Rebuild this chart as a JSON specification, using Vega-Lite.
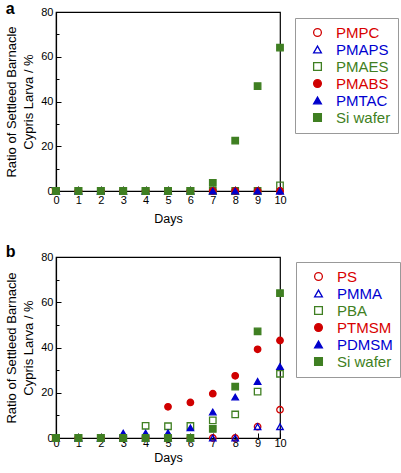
{
  "$schema": "https://vega.github.io/schema/vega-lite/v6.json",
  "padding": {"left": 5, "top": 0, "right": 2, "bottom": 2},
  "spacing": 17,
  "config": {
    "font": "Liberation Sans",
    "view": {"stroke": "black", "strokeWidth": 1.2},
    "axis": {"domainColor": "black", "domainWidth": 1.2, "tickColor": "black", "tickWidth": 1, "labelColor": "black", "labelFontSize": 11, "labelFont": "Liberation Sans", "titleColor": "black", "titleFont": "Liberation Sans", "titleFontWeight": "normal", "grid": false},
    "legend": {"labelFont": "Liberation Sans", "labelFontSize": 15, "padding": 7, "symbolOffset": 8, "labelOffset": 11, "rowPadding": 1, "strokeColor": "#999999", "fillColor": "white", "symbolSize": 60, "symbolStrokeWidth": 1.3, "labelLimit": 200},
    "title": {"font": "Liberation Sans"}
  },
  "datasets": {
    "a": [
      {"series": "PMPC", "day": 0, "value": 0}, {"series": "PMPC", "day": 1, "value": 0}, {"series": "PMPC", "day": 2, "value": 0}, {"series": "PMPC", "day": 3, "value": 0}, {"series": "PMPC", "day": 4, "value": 0}, {"series": "PMPC", "day": 5, "value": 0}, {"series": "PMPC", "day": 6, "value": 0}, {"series": "PMPC", "day": 7, "value": 0}, {"series": "PMPC", "day": 8, "value": 0}, {"series": "PMPC", "day": 9, "value": 0}, {"series": "PMPC", "day": 10, "value": 0},
      {"series": "PMAPS", "day": 0, "value": 0}, {"series": "PMAPS", "day": 1, "value": 0}, {"series": "PMAPS", "day": 2, "value": 0}, {"series": "PMAPS", "day": 3, "value": 0}, {"series": "PMAPS", "day": 4, "value": 0}, {"series": "PMAPS", "day": 5, "value": 0}, {"series": "PMAPS", "day": 6, "value": 0}, {"series": "PMAPS", "day": 7, "value": 0}, {"series": "PMAPS", "day": 8, "value": 0}, {"series": "PMAPS", "day": 9, "value": 0}, {"series": "PMAPS", "day": 10, "value": 0},
      {"series": "PMAES", "day": 0, "value": 0}, {"series": "PMAES", "day": 1, "value": 0}, {"series": "PMAES", "day": 2, "value": 0}, {"series": "PMAES", "day": 3, "value": 0}, {"series": "PMAES", "day": 4, "value": 0}, {"series": "PMAES", "day": 5, "value": 0}, {"series": "PMAES", "day": 6, "value": 0}, {"series": "PMAES", "day": 7, "value": 0}, {"series": "PMAES", "day": 8, "value": 0}, {"series": "PMAES", "day": 9, "value": 0}, {"series": "PMAES", "day": 10, "value": 2.5},
      {"series": "PMABS", "day": 0, "value": 0}, {"series": "PMABS", "day": 1, "value": 0}, {"series": "PMABS", "day": 2, "value": 0}, {"series": "PMABS", "day": 3, "value": 0}, {"series": "PMABS", "day": 4, "value": 0}, {"series": "PMABS", "day": 5, "value": 0}, {"series": "PMABS", "day": 6, "value": 0}, {"series": "PMABS", "day": 7, "value": 0}, {"series": "PMABS", "day": 8, "value": 0}, {"series": "PMABS", "day": 9, "value": 0}, {"series": "PMABS", "day": 10, "value": 0},
      {"series": "PMTAC", "day": 0, "value": 0}, {"series": "PMTAC", "day": 1, "value": 0}, {"series": "PMTAC", "day": 2, "value": 0}, {"series": "PMTAC", "day": 3, "value": 0}, {"series": "PMTAC", "day": 4, "value": 0}, {"series": "PMTAC", "day": 5, "value": 0}, {"series": "PMTAC", "day": 6, "value": 0}, {"series": "PMTAC", "day": 7, "value": 0}, {"series": "PMTAC", "day": 8, "value": 0}, {"series": "PMTAC", "day": 9, "value": 0}, {"series": "PMTAC", "day": 10, "value": 0},
      {"series": "Si wafer", "day": 0, "value": 0}, {"series": "Si wafer", "day": 1, "value": 0}, {"series": "Si wafer", "day": 2, "value": 0}, {"series": "Si wafer", "day": 3, "value": 0}, {"series": "Si wafer", "day": 4, "value": 0}, {"series": "Si wafer", "day": 5, "value": 0}, {"series": "Si wafer", "day": 6, "value": 0}, {"series": "Si wafer", "day": 7, "value": 3.6}, {"series": "Si wafer", "day": 8, "value": 22.5}, {"series": "Si wafer", "day": 9, "value": 46.9}, {"series": "Si wafer", "day": 10, "value": 64.1}
    ],
    "b": [
      {"series": "PS", "day": 0, "value": 0}, {"series": "PS", "day": 1, "value": 0}, {"series": "PS", "day": 2, "value": 0}, {"series": "PS", "day": 3, "value": 0}, {"series": "PS", "day": 4, "value": 0}, {"series": "PS", "day": 5, "value": 0}, {"series": "PS", "day": 6, "value": 0}, {"series": "PS", "day": 7, "value": 0}, {"series": "PS", "day": 8, "value": 0}, {"series": "PS", "day": 9, "value": 5}, {"series": "PS", "day": 10, "value": 12.5},
      {"series": "PMMA", "day": 0, "value": 0}, {"series": "PMMA", "day": 1, "value": 0}, {"series": "PMMA", "day": 2, "value": 0}, {"series": "PMMA", "day": 3, "value": 0}, {"series": "PMMA", "day": 4, "value": 0}, {"series": "PMMA", "day": 5, "value": 0}, {"series": "PMMA", "day": 6, "value": 0}, {"series": "PMMA", "day": 7, "value": 0}, {"series": "PMMA", "day": 8, "value": 0}, {"series": "PMMA", "day": 9, "value": 5}, {"series": "PMMA", "day": 10, "value": 5},
      {"series": "PBA", "day": 0, "value": 0}, {"series": "PBA", "day": 1, "value": 0}, {"series": "PBA", "day": 2, "value": 0}, {"series": "PBA", "day": 3, "value": 0}, {"series": "PBA", "day": 4, "value": 5.4}, {"series": "PBA", "day": 5, "value": 5.2}, {"series": "PBA", "day": 6, "value": 5.3}, {"series": "PBA", "day": 7, "value": 7.8}, {"series": "PBA", "day": 8, "value": 10.4}, {"series": "PBA", "day": 9, "value": 20.5}, {"series": "PBA", "day": 10, "value": 28.4},
      {"series": "PTMSM", "day": 0, "value": 0}, {"series": "PTMSM", "day": 1, "value": 0}, {"series": "PTMSM", "day": 2, "value": 0}, {"series": "PTMSM", "day": 3, "value": 0}, {"series": "PTMSM", "day": 4, "value": 0}, {"series": "PTMSM", "day": 5, "value": 13.8}, {"series": "PTMSM", "day": 6, "value": 15.7}, {"series": "PTMSM", "day": 7, "value": 19.6}, {"series": "PTMSM", "day": 8, "value": 27.5}, {"series": "PTMSM", "day": 9, "value": 39.2}, {"series": "PTMSM", "day": 10, "value": 43.1},
      {"series": "PDMSM", "day": 0, "value": 0}, {"series": "PDMSM", "day": 1, "value": 0}, {"series": "PDMSM", "day": 2, "value": 0}, {"series": "PDMSM", "day": 3, "value": 2.2}, {"series": "PDMSM", "day": 4, "value": 2.2}, {"series": "PDMSM", "day": 5, "value": 2.3}, {"series": "PDMSM", "day": 6, "value": 4.5}, {"series": "PDMSM", "day": 7, "value": 11.5}, {"series": "PDMSM", "day": 8, "value": 18.1}, {"series": "PDMSM", "day": 9, "value": 25}, {"series": "PDMSM", "day": 10, "value": 31.6},
      {"series": "Si wafer", "day": 0, "value": 0}, {"series": "Si wafer", "day": 1, "value": 0}, {"series": "Si wafer", "day": 2, "value": 0}, {"series": "Si wafer", "day": 3, "value": 0}, {"series": "Si wafer", "day": 4, "value": 0}, {"series": "Si wafer", "day": 5, "value": 0}, {"series": "Si wafer", "day": 6, "value": 0}, {"series": "Si wafer", "day": 7, "value": 4}, {"series": "Si wafer", "day": 8, "value": 22.7}, {"series": "Si wafer", "day": 9, "value": 47.1}, {"series": "Si wafer", "day": 10, "value": 64}
    ]
  },
  "vconcat": [
    {
      "data": {"name": "a"},
      "width": 224, "height": 179,
      "title": {"text": "a", "anchor": "start", "frame": "bounds", "fontSize": 16, "fontWeight": "bold", "color": "black", "offset": -11},
      "mark": {"type": "point", "size": 42, "strokeWidth": 1.3, "opacity": 1},
      "encoding": {
        "x": {"field": "day", "type": "quantitative", "scale": {"domain": [0, 10], "nice": false, "zero": false},
          "axis": {"title": "Days", "titleFontSize": 12.5, "titlePadding": 7, "format": "d", "values": [0,0.5,1,1.5,2,2.5,3,3.5,4,4.5,5,5.5,6,6.5,7,7.5,8,8.5,9,9.5,10], "labelExpr": "datum.value % 1 === 0 ? datum.label : ''", "tickSize": {"condition": {"test": "datum.value % 1 === 0", "value": -5}, "value": -3}, "labelPadding": 8, "labelFlush": false}},
        "y": {"field": "value", "type": "quantitative", "scale": {"domain": [0, 80], "nice": false},
          "axis": {"title": ["Ratio of Settleed Barnacle", "Cypris Larva / %"], "titleFontSize": 13, "titleLineHeight": 17, "titlePadding": 5, "values": [0,10,20,30,40,50,60,70,80], "labelExpr": "datum.value % 20 === 0 ? datum.label : ''", "tickSize": {"condition": {"test": "datum.value % 20 === 0", "value": -5}, "value": -3}, "labelPadding": 8}},
        "shape": {"field": "series", "type": "nominal", "scale": {"domain": ["PMPC","PMAPS","PMAES","PMABS","PMTAC","Si wafer"], "range": ["circle","triangle-up","square","circle","triangle-up","square"]},
          "legend": {"title": null, "orient": "none", "legendX": 239, "legendY": 6, "labelColor": {"expr": "(datum.value == 'PMPC' || datum.value == 'PMABS') ? '#d80000' : (datum.value == 'PMAPS' || datum.value == 'PMTAC') ? '#0000d0' : '#3f7f22'"}}},
        "fill": {"field": "series", "type": "nominal", "scale": {"domain": ["PMPC","PMAPS","PMAES","PMABS","PMTAC","Si wafer"], "range": ["transparent","transparent","transparent","#d00000","#0000cc","#3f7f22"]},
          "legend": {"title": null, "orient": "none", "legendX": 239, "legendY": 6, "labelColor": {"expr": "(datum.value == 'PMPC' || datum.value == 'PMABS') ? '#d80000' : (datum.value == 'PMAPS' || datum.value == 'PMTAC') ? '#0000d0' : '#3f7f22'"}}},
        "stroke": {"field": "series", "type": "nominal", "scale": {"domain": ["PMPC","PMAPS","PMAES","PMABS","PMTAC","Si wafer"], "range": ["#d00000","#0000cc","#3f7f22","#d00000","#0000cc","#3f7f22"]},
          "legend": {"title": null, "orient": "none", "legendX": 239, "legendY": 6, "labelColor": {"expr": "(datum.value == 'PMPC' || datum.value == 'PMABS') ? '#d80000' : (datum.value == 'PMAPS' || datum.value == 'PMTAC') ? '#0000d0' : '#3f7f22'"}}}
      }
    },
    {
      "data": {"name": "b"},
      "width": 224, "height": 181,
      "title": {"text": "b", "anchor": "start", "frame": "bounds", "fontSize": 16, "fontWeight": "bold", "color": "black", "offset": -9},
      "mark": {"type": "point", "size": 42, "strokeWidth": 1.3, "opacity": 1},
      "encoding": {
        "x": {"field": "day", "type": "quantitative", "scale": {"domain": [0, 10], "nice": false, "zero": false},
          "axis": {"title": "Days", "titleFontSize": 12.5, "titlePadding": 3, "format": "d", "values": [0,0.5,1,1.5,2,2.5,3,3.5,4,4.5,5,5.5,6,6.5,7,7.5,8,8.5,9,9.5,10], "labelExpr": "datum.value % 1 === 0 ? datum.label : ''", "tickSize": {"condition": {"test": "datum.value % 1 === 0", "value": -5}, "value": -3}, "labelPadding": 4, "labelFlush": false}},
        "y": {"field": "value", "type": "quantitative", "scale": {"domain": [0, 80], "nice": false},
          "axis": {"title": ["Ratio of Settleed Barnacle", "Cypris Larva / %"], "titleFontSize": 13, "titleLineHeight": 17, "titlePadding": 5, "values": [0,10,20,30,40,50,60,70,80], "labelExpr": "datum.value % 20 === 0 ? datum.label : ''", "tickSize": {"condition": {"test": "datum.value % 20 === 0", "value": -5}, "value": -3}, "labelPadding": 8}},
        "shape": {"field": "series", "type": "nominal", "scale": {"domain": ["PS","PMMA","PBA","PTMSM","PDMSM","Si wafer"], "range": ["circle","triangle-up","square","circle","triangle-up","square"]},
          "legend": {"title": null, "orient": "none", "legendX": 240, "legendY": 5, "labelColor": {"expr": "(datum.value == 'PS' || datum.value == 'PTMSM') ? '#d80000' : (datum.value == 'PMMA' || datum.value == 'PDMSM') ? '#0000d0' : '#3f7f22'"}}},
        "fill": {"field": "series", "type": "nominal", "scale": {"domain": ["PS","PMMA","PBA","PTMSM","PDMSM","Si wafer"], "range": ["transparent","transparent","transparent","#d00000","#0000cc","#3f7f22"]},
          "legend": {"title": null, "orient": "none", "legendX": 240, "legendY": 5, "labelColor": {"expr": "(datum.value == 'PS' || datum.value == 'PTMSM') ? '#d80000' : (datum.value == 'PMMA' || datum.value == 'PDMSM') ? '#0000d0' : '#3f7f22'"}}},
        "stroke": {"field": "series", "type": "nominal", "scale": {"domain": ["PS","PMMA","PBA","PTMSM","PDMSM","Si wafer"], "range": ["#d00000","#0000cc","#3f7f22","#d00000","#0000cc","#3f7f22"]},
          "legend": {"title": null, "orient": "none", "legendX": 240, "legendY": 5, "labelColor": {"expr": "(datum.value == 'PS' || datum.value == 'PTMSM') ? '#d80000' : (datum.value == 'PMMA' || datum.value == 'PDMSM') ? '#0000d0' : '#3f7f22'"}}}
      }
    }
  ],
  "resolve": {"scale": {"shape": "independent", "fill": "independent", "stroke": "independent", "x": "independent", "y": "independent"}, "legend": {"shape": "independent", "fill": "independent", "stroke": "independent"}}
}
